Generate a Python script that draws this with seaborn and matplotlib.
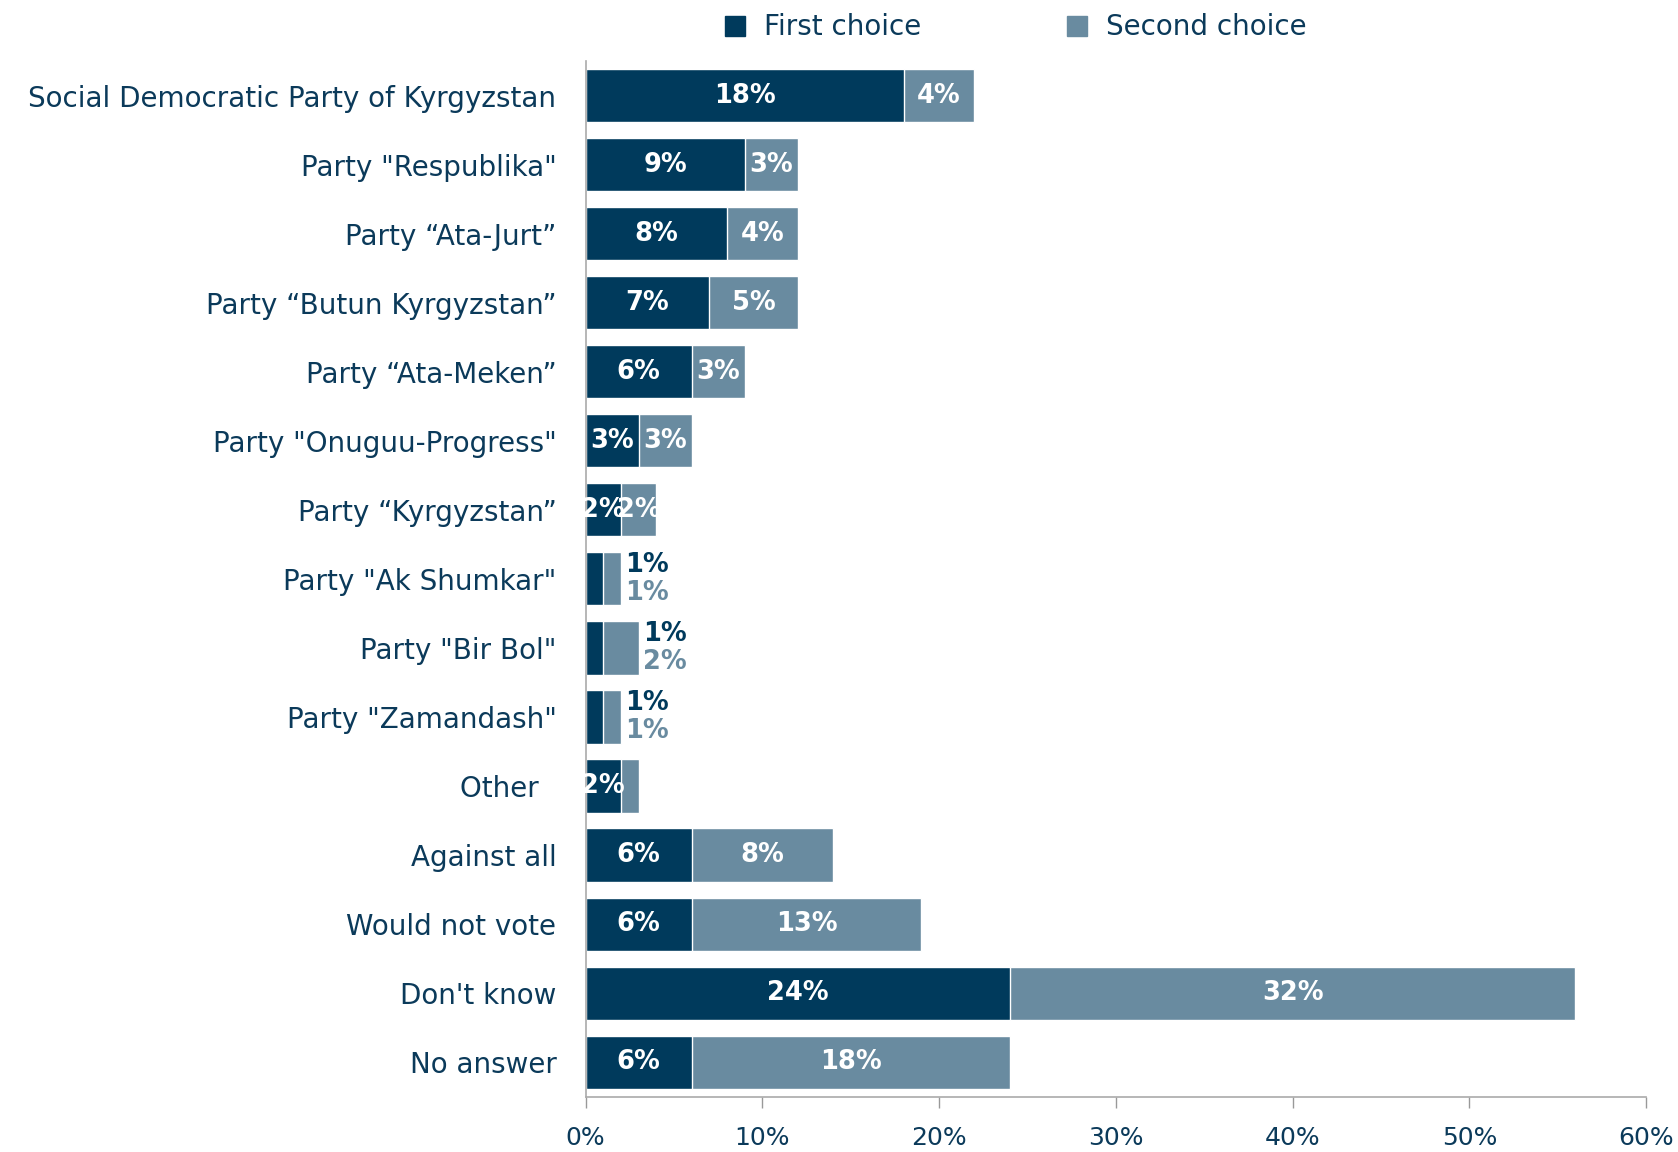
import matplotlib
matplotlib.use("Agg")
import matplotlib.pyplot as plt
import seaborn as sns
import pandas as pd
from matplotlib.lines import Line2D

# data
parties = [
    "Social Democratic Party of Kyrgyzstan",
    'Party "Respublika"',
    "Party \u201cAta-Jurt\u201d",
    "Party \u201cButun Kyrgyzstan\u201d",
    "Party \u201cAta-Meken\u201d",
    'Party "Onuguu-Progress"',
    "Party \u201cKyrgyzstan\u201d",
    'Party "Ak Shumkar"',
    'Party "Bir Bol"',
    'Party "Zamandash"',
    "Other  ",
    "Against all",
    "Would not vote",
    "Don't know",
    "No answer",
]
first_choice = [18, 9, 8, 7, 6, 3, 2, 1, 1, 1, 2, 6, 6, 24, 6]
second_choice = [4, 3, 4, 5, 3, 3, 2, 1, 2, 1, 1, 8, 13, 32, 18]
# which second-choice values get a label (Other's 1% is unlabeled)
second_labeled = [True] * 10 + [False] + [True] * 4

DARK = "#003A5C"
LIGHT = "#698BA0"
TXT = "#0B3A5A"

sns.set_style("white")
plt.rcParams["font.family"] = ["DejaVu Sans"]

df = pd.DataFrame({"party": parties, "first": first_choice,
                   "second": second_choice})
df["total"] = df["first"] + df["second"]

fig = plt.figure(figsize=(16.78, 11.52), dpi=100)
ax = fig.add_axes([0.349, 0.048, 0.632, 0.899])

sns.barplot(data=df, y="party", x="total", color=LIGHT, orient="h",
            width=0.77, saturation=1, ax=ax)
sns.barplot(data=df, y="party", x="first", color=DARK, orient="h",
            width=0.77, saturation=1, ax=ax)

ax.set_xlim(0, 60)
ax.set_ylim(len(parties) - 0.5, -0.5)
ax.set_xticks(range(0, 61, 10))
ax.set_xticklabels([f"{v}%" for v in range(0, 61, 10)])
ax.set_xlabel("")
ax.set_ylabel("")
ax.tick_params(axis="x", labelsize=18, colors="#999999", labelcolor=TXT,
               length=8, width=1, direction="out", pad=13, bottom=True)
ax.tick_params(axis="y", labelsize=20, labelcolor=TXT, length=0, pad=21)
for s in ["top", "right"]:
    ax.spines[s].set_visible(False)
for s in ["left", "bottom"]:
    ax.spines[s].set_color("#AAAAAA")
    ax.spines[s].set_linewidth(1.2)

# value labels
for i, (f, s, lab) in enumerate(zip(first_choice, second_choice, second_labeled)):
    if f >= 2:
        ax.text(f / 2, i, f"{f}%", ha="center", va="center", color="white",
                fontsize=18.5, fontweight="bold")
        if lab:
            ax.text(f + s / 2, i, f"{s}%", ha="center", va="center",
                    color="white", fontsize=18.5, fontweight="bold")
    else:
        xe = f + s + 1.5
        ax.text(xe, i - 0.2, f"{f}%", ha="center", va="center", color=DARK,
                fontsize=18.5, fontweight="bold")
        ax.text(xe, i + 0.2, f"{s}%", ha="center", va="center", color=LIGHT,
                fontsize=18.5, fontweight="bold")

handles = [
    Line2D([], [], marker="s", ls="", color=DARK, markersize=14),
    Line2D([], [], marker="s", ls="", color=LIGHT, markersize=14),
]
fig.legend(handles, ["First choice", "Second choice"], loc="upper center",
           bbox_to_anchor=(0.6, 1.01), ncol=2, frameon=False, fontsize=20,
           handletextpad=0.05, columnspacing=4.6, labelcolor=TXT)

fig.savefig("out.png", dpi=100)
